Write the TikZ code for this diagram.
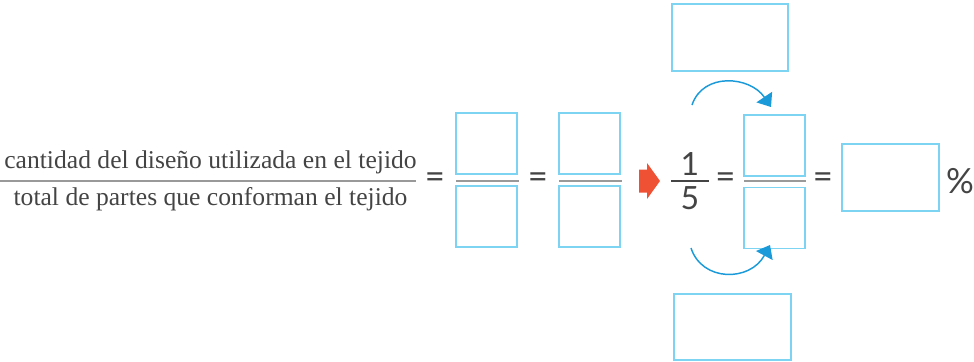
\documentclass[tikz,border=0pt]{standalone}
\usepackage{fontspec}
\newfontfamily\sansf{Lato}
\newfontfamily\serf{Liberation Serif}
\usetikzlibrary{arrows.meta}
\definecolor{boxblue}{HTML}{7DD3F2}
\definecolor{arcblue}{HTML}{1A9AD9}
\definecolor{arrred}{HTML}{EF5135}
\definecolor{linegray}{HTML}{999999}
\definecolor{txtgray}{HTML}{444444}
\tikzset{
  ansbox/.style={draw=boxblue, line width=1.1pt, inner sep=0pt, minimum width=45.75pt, minimum height=45.75pt},
  fracline/.style={draw=linegray, line width=1.5pt},
  eqsign/.style={text=txtgray, font=\sansf\fontsize{26}{26}\selectfont, inner sep=0pt},
  digit/.style={text=txtgray, font=\sansf\fontsize{24}{24}\selectfont, inner sep=0pt},
  wordtxt/.style={text=txtgray, font=\serf\fontsize{19.2}{23}\selectfont, inner sep=0pt, anchor=base},
  turnarrow/.style={draw=arcblue, line width=1.1pt, -{Triangle[length=9pt,width=14pt]}}
}
\begin{document}
\begin{tikzpicture}[x=0.75pt,y=-0.75pt]
\useasboundingbox (0,0) rectangle (974,361);
% word fraction
\node[wordtxt] (wtop) at (210.5,168) {cantidad del diseño utilizada en el tejido};
\node[wordtxt] (wbot) at (210.5,205) {total de partes que conforman el tejido};
\coordinate (wl) at (0,181);
\coordinate (wr) at (416,181);
\draw[fracline] (wl) -- (wr);
\node[eqsign] (eq1) at (435,181) {=};
% pair 1
\node[ansbox] (p1t) at (486.5,143.5) {};
\node[ansbox] (p1b) at (486.5,216.5) {};
\coordinate (p1l) at (456,181); \coordinate (p1r) at (519,181);
\draw[fracline] (p1l) -- (p1r);
\node[eqsign] (eq2) at (538,181) {=};
% pair 2
\node[ansbox] (p2t) at (589.5,143.5) {};
\node[ansbox] (p2b) at (589.5,216.5) {};
\coordinate (p2l) at (559,181); \coordinate (p2r) at (622,181);
\draw[fracline] (p2l) -- (p2r);
% red arrow
\fill[arrred] (639,169.5) -- (647,169.5) -- (647,163) -- (660,181) -- (647,199) -- (647,192.5) -- (639,192.5) -- cycle;
% 1/5
\node[digit] (one) at (690,164.5) {1};
\node[digit] (five) at (690,198) {5};
\coordinate (fl) at (671,181); \coordinate (fr) at (709,181);
\draw[draw=txtgray, line width=1.5pt] (fl) -- (fr);
\node[eqsign] (eq3) at (725.5,181) {=};
% pair 3
\node[ansbox] (p3t) at (774.5,145.5) {};
\node[ansbox] (p3b) at (774.5,218) {};
\coordinate (p3l) at (744,181); \coordinate (p3r) at (806,181);
\draw[fracline] (p3l) -- (p3r);
\node[eqsign] (eq4) at (823,181) {=};
% percent box
\node[ansbox, minimum width=72.75pt, minimum height=50.25pt] (pct) at (890.5,177.5) {};
\node[digit, font=\sansf\fontsize{26}{26}\selectfont] (pcts) at (960,181) {\%};
% top and bottom boxes
\node[ansbox, minimum width=87pt, minimum height=50.25pt] (topb) at (730,37.5) {};
\node[ansbox, minimum width=87.75pt, minimum height=49.5pt] (botb) at (732.5,327) {};
% curved arrows
\coordinate (ta) at (692,105); \coordinate (tb) at (771,107);
\draw[turnarrow] (ta) .. controls (703,72) and (750,76) .. (tb);
\coordinate (ba) at (691,248); \coordinate (bb) at (770,245);
\draw[turnarrow] (ba) .. controls (702,282) and (750,282) .. (bb);
\end{tikzpicture}
\end{document}
